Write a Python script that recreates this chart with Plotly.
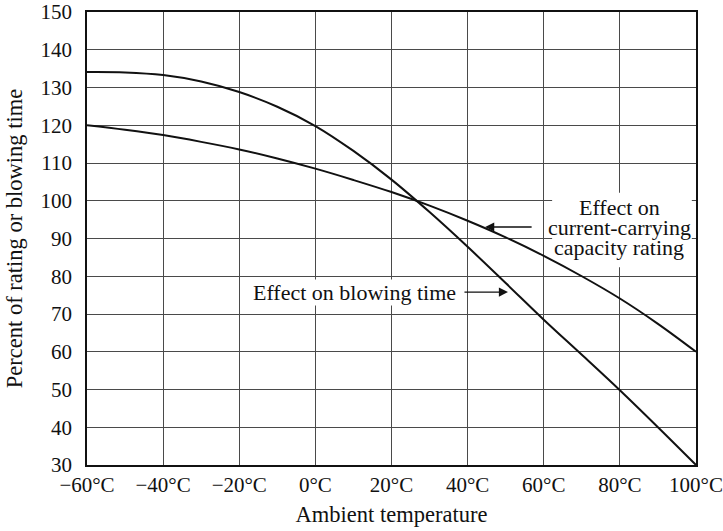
import plotly.graph_objects as go

# Data
temps = [-60, -50, -40, -30, -20, -10, 0, 10, 20, 30, 40, 50, 60, 70, 80, 90, 100]
blowing_time = [134.1, 134.0, 133.3, 131.6, 128.8, 124.9, 119.8, 113.2, 105.6, 97.0, 87.8, 78.2, 68.5, 59.2, 49.8, 40.0, 30.0]
rating = [120.0, 118.8, 117.4, 115.6, 113.6, 111.2, 108.5, 105.5, 102.3, 98.7, 94.7, 90.3, 85.4, 80.0, 74.1, 67.4, 60.0]

x_tickvals = [-60, -40, -20, 0, 20, 40, 60, 80, 100]
x_ticktext = ["\u221260\u00b0C", "\u221240\u00b0C", "\u221220\u00b0C", "0\u00b0C", "20\u00b0C",
              "40\u00b0C", "60\u00b0C", "80\u00b0C", "100\u00b0C"]
y_tickvals = [30, 40, 50, 60, 70, 80, 90, 100, 110, 120, 130, 140, 150]

FONT = "Liberation Serif"
FS = 21
FS_ANN = 22
FS_TITLE = 22.5
INK = "#111111"

fig = go.Figure()
fig.add_trace(go.Scatter(x=temps, y=blowing_time, mode="lines",
                         line=dict(color=INK, width=2, shape="spline", smoothing=1.0),
                         showlegend=False, hoverinfo="skip"))
fig.add_trace(go.Scatter(x=temps, y=rating, mode="lines",
                         line=dict(color=INK, width=2, shape="spline", smoothing=1.0),
                         showlegend=False, hoverinfo="skip"))

# white background block behind the multi-line label
fig.add_shape(type="rect", xref="x", yref="y", x0=62.2, x1=98.9, y0=82.4, y1=102.1,
              fillcolor="white", line=dict(width=0), layer="between")

rating_lines = ["Effect on", "current-carrying", "capacity rating"]
rating_line_y = [98.3, 92.8, 87.5]
for txt, yy in zip(rating_lines, rating_line_y):
    fig.add_annotation(x=79.8, y=yy, xref="x", yref="y", text=txt, showarrow=False,
                       borderpad=0, font=dict(family=FONT, size=FS_ANN, color=INK))

fig.add_annotation(x=10.4, y=75.8, xref="x", yref="y", text="Effect on blowing time",
                   showarrow=False, bgcolor="white", borderpad=0,
                   font=dict(family=FONT, size=FS_ANN, color=INK))

# arrows
fig.add_annotation(x=44.6, y=93.05, xref="x", yref="y", text="", showarrow=True,
                   ax=48, ay=0, axref="pixel", ayref="pixel",
                   arrowhead=2, arrowsize=1.4, arrowwidth=1.3, arrowcolor=INK)
fig.add_annotation(x=50.6, y=75.8, xref="x", yref="y", text="", showarrow=True,
                   ax=-45, ay=0, axref="pixel", ayref="pixel",
                   arrowhead=2, arrowsize=1.4, arrowwidth=1.3, arrowcolor=INK)

fig.update_xaxes(range=[-60, 100], tickvals=x_tickvals, ticktext=x_ticktext,
                 showgrid=True, gridcolor="#4a4a4a", gridwidth=1,
                 showline=True, linecolor=INK, linewidth=1.5, mirror=True,
                 zeroline=False, ticks="", automargin=False, ticklabeloverflow="allow",
                 tickfont=dict(family=FONT, size=FS, color=INK),
                 title=dict(text="Ambient temperature", standoff=10,
                            font=dict(family=FONT, size=FS_TITLE, color=INK)))
fig.update_yaxes(range=[30, 150], tickvals=y_tickvals,
                 showgrid=True, gridcolor="#4a4a4a", gridwidth=1,
                 showline=True, linecolor=INK, linewidth=1.5, mirror=True,
                 zeroline=False, ticks="", ticklabelstandoff=9, automargin=False,
                 ticklabeloverflow="allow",
                 tickfont=dict(family=FONT, size=FS, color=INK),
                 title=dict(text="Percent of rating or blowing time", standoff=12,
                            font=dict(family=FONT, size=FS_TITLE, color=INK)))

fig.update_layout(width=723, height=531, autosize=False,
                  margin=dict(l=87, r=27, t=12, b=66),
                  paper_bgcolor="white", plot_bgcolor="white")

# remove the page's default body margin so the figure fills the window
fig.write_html("out.html", config={"displayModeBar": False},
               post_script="document.body.style.margin='0';")
